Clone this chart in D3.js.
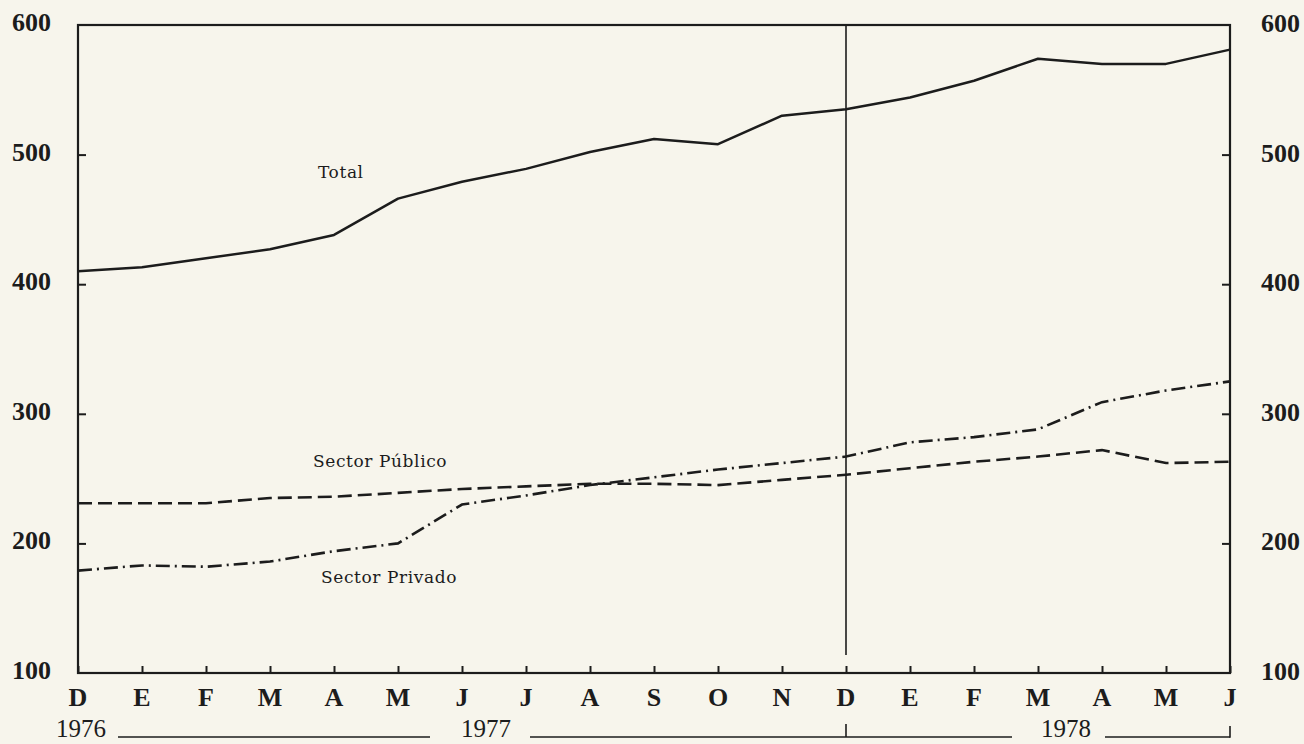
<!DOCTYPE html>
<html>
<head>
<meta charset="utf-8">
<script src="https://cdn.jsdelivr.net/npm/d3@7/dist/d3.min.js"></script>
<style>
  html, body { margin: 0; padding: 0; background: #f7f5ec; }
  svg { display: block; }
</style>
</head>
<body>
<svg id="chart" width="1304" height="744"></svg>
<script>
// ---- data ----
const monthKeys = ["1976-12","1977-01","1977-02","1977-03","1977-04","1977-05","1977-06","1977-07","1977-08","1977-09","1977-10","1977-11","1977-12","1978-01","1978-02","1978-03","1978-04","1978-05","1978-06"];
const monthLabels = ["D","E","F","M","A","M","J","J","A","S","O","N","D","E","F","M","A","M","J"];
const totalValues   = [410, 413, 420, 427, 438, 466, 479, 489, 502, 512, 508, 530, 535, 544, 557, 574, 570, 570, 581];
const publicoValues = [231, 231, 231, 235, 236, 239, 242, 244, 246, 246, 245, 249, 253, 258, 263, 267, 272, 262, 263];
const privadoValues = [179, 183, 182, 186, 194, 200, 230, 237, 245, 251, 257, 262, 267, 278, 282, 288, 309, 318, 325];
const yTicks = [100, 200, 300, 400, 500, 600];
const years = ["1976", "1977", "1978"];
const seriesNames = ["Total", "Sector Público", "Sector Privado"];

// ---- layout ----
const ink = "#1c1c1c";
const margin = { left: 78, right: 1230, top: 25, bottom: 673 };
const svg = d3.select("#chart");
svg.append("rect").attr("width", 1304).attr("height", 744).attr("fill", "#f7f5ec");

const x = d3.scalePoint().domain(monthKeys).range([margin.left, margin.right]);
const y = d3.scaleLinear().domain([100, 600]).range([margin.bottom, margin.top]);

const numFont = "'Liberation Serif', 'Times New Roman', serif";
const labelFont = "'DejaVu Serif', serif";

// frame
svg.append("rect")
  .attr("x", margin.left).attr("y", margin.top)
  .attr("width", margin.right - margin.left).attr("height", margin.bottom - margin.top)
  .attr("fill", "none").attr("stroke", ink).attr("stroke-width", 2.2);

// bottom axis (ticks inward)
const xAxis = d3.axisBottom(x).tickSize(-7).tickFormat("").tickSizeOuter(0);
const gx = svg.append("g").attr("transform", `translate(0,${margin.bottom})`).call(xAxis);
gx.select(".domain").remove();
gx.selectAll(".tick line").attr("stroke", ink).attr("stroke-width", 2);

svg.append("g").selectAll("text").data(monthKeys).join("text")
  .attr("x", d => x(d)).attr("y", 706)
  .attr("text-anchor", "middle")
  .attr("font-family", numFont).attr("font-weight", "bold").attr("font-size", 26)
  .attr("fill", ink)
  .text((d, i) => monthLabels[i]);

// left axis ticks inward
const innerTicks = yTicks.filter(v => v > 100 && v < 600);
const yAxisL = d3.axisLeft(y).tickValues(innerTicks).tickSize(-8).tickFormat("");
const gyl = svg.append("g").attr("transform", `translate(${margin.left},0)`).call(yAxisL);
gyl.select(".domain").remove();
gyl.selectAll(".tick line").attr("stroke", ink).attr("stroke-width", 2);

const yAxisR = d3.axisRight(y).tickValues(innerTicks).tickSize(-8).tickFormat("");
const gyr = svg.append("g").attr("transform", `translate(${margin.right},0)`).call(yAxisR);
gyr.select(".domain").remove();
gyr.selectAll(".tick line").attr("stroke", ink).attr("stroke-width", 2);

// y labels
svg.append("g").selectAll("text").data(yTicks).join("text")
  .attr("x", 51).attr("y", d => y(d) + 6)
  .attr("text-anchor", "end")
  .attr("font-family", numFont).attr("font-weight", "bold").attr("font-size", 26)
  .attr("fill", ink).text(d => d);
svg.append("g").selectAll("text").data(yTicks).join("text")
  .attr("x", 1261).attr("y", d => y(d) + 7)
  .attr("text-anchor", "start")
  .attr("font-family", numFont).attr("font-weight", "bold").attr("font-size", 26)
  .attr("fill", ink).text(d => d);

// vertical year separator at Dec 1977
const xd = x("1977-12");
svg.append("line").attr("x1", xd).attr("x2", xd).attr("y1", margin.top).attr("y2", 655)
  .attr("stroke", ink).attr("stroke-width", 1.6);

// series lines
const line = d3.line().x((d, i) => x(monthKeys[i])).y(d => y(d));
svg.append("path").datum(totalValues).attr("d", line)
  .attr("fill", "none").attr("stroke", ink).attr("stroke-width", 2.5).attr("stroke-linejoin", "round");
svg.append("path").datum(publicoValues).attr("d", line)
  .attr("fill", "none").attr("stroke", ink).attr("stroke-width", 2.6)
  .attr("stroke-dasharray", "14,6");
svg.append("path").datum(privadoValues).attr("d", line)
  .attr("fill", "none").attr("stroke", ink).attr("stroke-width", 2.6)
  .attr("stroke-dasharray", "14,5,2,5");

// series labels
const labelPos = [[318, 178], [313, 467], [321, 583]];
svg.append("g").selectAll("text").data(seriesNames).join("text")
  .attr("x", (d, i) => labelPos[i][0]).attr("y", (d, i) => labelPos[i][1])
  .attr("font-family", labelFont).attr("font-size", 17).attr("letter-spacing", 0.6)
  .attr("fill", ink).text(d => d);

// year row
const yearY = 737;
const yearCenters = [81, 486, 1066];
svg.append("g").selectAll("text").data(years).join("text")
  .attr("x", (d, i) => yearCenters[i]).attr("y", yearY)
  .attr("text-anchor", "middle")
  .attr("font-family", numFont).attr("font-size", 25)
  .attr("fill", ink).text(d => d);
const yearSegs = [[118, 430], [530, 1012], [1105, margin.right]];
svg.append("g").selectAll("line").data(yearSegs).join("line")
  .attr("x1", d => d[0]).attr("x2", d => d[1]).attr("y1", yearY).attr("y2", yearY)
  .attr("stroke", ink).attr("stroke-width", 1.6);
svg.append("line").attr("x1", xd).attr("x2", xd).attr("y1", 724).attr("y2", yearY)
  .attr("stroke", ink).attr("stroke-width", 1.6);
svg.append("line").attr("x1", margin.right).attr("x2", margin.right).attr("y1", 726).attr("y2", yearY + 0.8)
  .attr("stroke", ink).attr("stroke-width", 1.6);
</script>
</body>
</html>
